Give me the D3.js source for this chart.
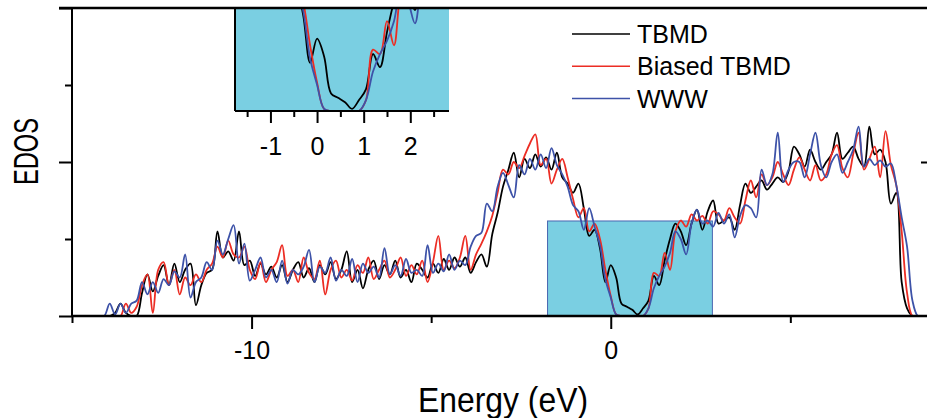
<!DOCTYPE html>
<html lang="en">
  <head>
    <meta charset="UTF-8" />
    <title>EDOS</title>
    <script src="https://d3js.org/d3.v7.min.js"></script>
    <style>
      * {
        margin: 0;
        padding: 0;
      }
      body {
        background: #fff;
      }
      svg {
        display: block;
        font-family: "Liberation Sans", Arial, sans-serif;
      }
    </style>
  </head>
  <body>
    <div id="chart"></div>
    <script>
      // energy grid (eV)
      const energies = [
        -14.4, -14.25, -14.1, -13.95, -13.8, -13.65, -13.5, -13.35, -13.2, -13.05,
        -12.9, -12.75, -12.6, -12.45, -12.3, -12.15, -12, -11.85, -11.7, -11.55,
        -11.4, -11.25, -11.1, -10.95, -10.8, -10.65, -10.5, -10.35, -10.2, -10.05,
        -9.9, -9.75, -9.6, -9.45, -9.3, -9.15, -9, -8.85, -8.7, -8.55,
        -8.4, -8.25, -8.1, -7.95, -7.8, -7.65, -7.5, -7.35, -7.2, -7.05,
        -6.9, -6.75, -6.6, -6.45, -6.3, -6.15, -6, -5.85, -5.7, -5.55,
        -5.4, -5.25, -5.1, -4.95, -4.8, -4.65, -4.5, -4.35, -4.2, -4.05,
        -3.9, -3.75, -3.6, -3.45, -3.3, -3.15, -3, -2.85, -2.7, -2.55,
        -2.4, -2.25, -2.1, -1.95, -1.8, -1.65, -1.5, -1.35, -1.2, -1.05,
        -0.9, -0.75, -0.6, -0.45, -0.3, -0.15, 0, 0.15, 0.3, 0.45,
        0.6, 0.75, 0.9, 1.05, 1.2, 1.35, 1.5, 1.65, 1.8, 1.95,
        2.1, 2.25, 2.4, 2.55, 2.7, 2.85, 3, 3.15, 3.3, 3.45,
        3.6, 3.75, 3.9, 4.05, 4.2, 4.35, 4.5, 4.65, 4.8, 4.95,
        5.1, 5.25, 5.4, 5.55, 5.7, 5.85, 6, 6.15, 6.3, 6.45,
        6.6, 6.75, 6.9, 7.05, 7.2, 7.35, 7.5, 7.65, 7.8, 7.95,
        8.1, 8.25, 8.4, 8.55, 8.7,
      ];

      const tbmd = [
        0, 0, 0, 0, 0.02, 0.08, 0.02, 0, 0, 0.15,
        0.27, 0.16, 0.26, 0.33, 0.2, 0.34, 0.22, 0.3, 0.34, 0.07,
        0.2, 0.28, 0.3, 0.55, 0.38, 0.42, 0.36, 0.55, 0.33, 0.36,
        0.26, 0.34, 0.27, 0.32, 0.25, 0.33, 0.22, 0.3, 0.35, 0.25,
        0.31, 0.22, 0.33, 0.27, 0.35, 0.24, 0.3, 0.42, 0.22, 0.3,
        0.18, 0.3, 0.36, 0.24, 0.33, 0.27, 0.36, 0.25, 0.3, 0.22,
        0.34, 0.3, 0.25, 0.34, 0.28, 0.37, 0.3, 0.38, 0.32, 0.38,
        0.28, 0.35, 0.4, 0.32, 0.53, 0.67, 0.84, 0.95, 1.06, 0.9,
        1.02, 0.96, 1.05, 0.97, 1.03, 0.95, 1.06, 0.9, 0.86, 0.8,
        0.86, 0.7, 0.52, 0.56, 0.44, 0.22, 0.33, 0.25, 0.08, 0.06,
        0.04, 0.01, 0.05, 0.1, 0.26, 0.2, 0.36, 0.5, 0.6, 0.55,
        0.46, 0.6, 0.69, 0.56, 0.68, 0.75, 0.6, 0.62, 0.64, 0.56,
        0.72, 0.86, 0.8, 0.84, 0.88, 0.82, 0.86, 0.9, 0.87, 0.94,
        1.1, 1.05, 0.97, 1.08, 1.0, 0.95, 1.0, 1.05, 1.19, 1.02,
        1.06, 1.1, 1.02, 0.97, 1.23, 1.05, 1.08, 1.0, 0.73, 0.8,
        0.22, 0.05, 0, 0, 0,
      ];

      const biasedTbmd = [
        0, 0, 0, 0, 0, 0, 0.08, 0.02, 0.06, 0.2,
        0.27, 0.02, 0.3, 0.35, 0.2, 0.3, 0.14, 0.25, 0.2, 0.27,
        0.22, 0.3, 0.34, 0.45, 0.38, 0.49, 0.4, 0.38, 0.45, 0.3,
        0.24, 0.35, 0.22, 0.3, 0.35, 0.46, 0.26, 0.3, 0.22, 0.38,
        0.28, 0.24, 0.36, 0.14, 0.3, 0.36, 0.25, 0.3, 0.23, 0.33,
        0.28, 0.38, 0.24, 0.3, 0.36, 0.25, 0.3, 0.38, 0.26, 0.33,
        0.27, 0.36, 0.22, 0.35, 0.52, 0.3, 0.36, 0.31, 0.38, 0.52,
        0.3, 0.4, 0.47, 0.55, 0.65, 0.8, 0.95, 0.92, 1.0, 0.96,
        1.04, 1.12, 1.18, 0.98, 1.02, 0.86, 0.95, 1.02, 0.9, 0.76,
        0.64, 0.7, 0.55, 0.6, 0.5, 0.3, 0.13, 0.01, 0, 0,
        0, 0, 0, 0.05, 0.28, 0.26, 0.41, 0.3, 0.55, 0.62,
        0.58, 0.66, 0.62, 0.65, 0.6, 0.68, 0.66, 0.62, 0.7, 0.64,
        0.6, 0.75, 0.88, 0.77, 0.92, 0.85, 0.9, 1.0, 0.92, 0.85,
        0.95, 1.03, 0.95, 0.88, 0.98, 0.88, 0.92, 1.05, 1.11, 0.96,
        0.9, 1.05, 1.19, 0.95, 1.02, 1.1, 0.9, 1.2, 0.98, 0.85,
        0.55, 0.15, 0, 0, 0,
      ];

      const www = [
        0, 0, 0, 0.08, 0.01, 0.08, 0.02, 0.08, 0.1, 0.22,
        0.14, 0.22, 0.15, 0.24, 0.2, 0.29, 0.25, 0.4, 0.12, 0.22,
        0.25, 0.35, 0.3, 0.49, 0.4, 0.5, 0.59, 0.34, 0.47, 0.23,
        0.3, 0.38, 0.25, 0.3, 0.22, 0.36, 0.21, 0.3, 0.27, 0.32,
        0.43, 0.22, 0.32, 0.28, 0.38, 0.23, 0.3, 0.26, 0.37, 0.22,
        0.34, 0.28, 0.32, 0.25, 0.44, 0.27, 0.33, 0.26, 0.37, 0.28,
        0.3, 0.26, 0.46, 0.28, 0.34, 0.29, 0.4, 0.3, 0.36, 0.33,
        0.45, 0.52, 0.54, 0.73, 0.68, 0.84, 0.93, 0.85, 0.77, 0.98,
        0.92, 1.02, 0.95, 1.05, 0.96, 1.09, 0.98, 0.92, 0.84, 0.72,
        0.68, 0.56, 0.7, 0.58, 0.46, 0.24, 0.12, 0.01, 0, 0,
        0, 0, 0, 0.05, 0.18, 0.26, 0.32, 0.41, 0.55, 0.5,
        0.4, 0.6, 0.69, 0.6, 0.62, 0.58, 0.67, 0.6, 0.66, 0.51,
        0.65, 0.72, 0.7, 0.64, 0.95, 0.85, 0.92, 1.19, 0.87, 0.95,
        1.0, 1.0, 0.9, 1.05, 1.19, 0.98, 0.9, 1.0, 1.05, 0.93,
        1.0, 1.08, 1.23, 0.97, 1.02, 0.98, 1.01, 0.97, 0.99, 0.85,
        0.64, 0.45, 0.1, 0, 0,
      ];

      const seriesNames = ["TBMD", "Biased TBMD", "WWW"];
      const seriesValues = [tbmd, biasedTbmd, www];
      const seriesColors = ["#000000", "#ec2d24", "#3d52a8"];

      const xTicksMajor = [-10, 0];
      const xTicksMinor = [-15, -5, 5];
      const yTicksMajor = [0, 1, 2];
      const yTicksMinor = [0.5, 1.5];
      const insetTicksMajor = [-1, 0, 1, 2];
      const insetTicksMinor = [-1.5, -0.5, 0.5, 1.5, 2.5];

      // zoomed window shown in the inset
      const zoomEnergy = [-1.76, 2.83];
      const zoomBoxTop = 0.617;
      const insetEdosMax = 0.47;

      const width = 927;
      const height = 418;
      const MARGIN = { left: 72, right: 934, top: 8, bottom: 316 };

      let svg = d3
        .select("#chart")
        .append("svg")
        .attr("width", width)
        .attr("height", height);

      let x = d3.scaleLinear().domain([-15, 9]).range([MARGIN.left, MARGIN.right]);
      let y = d3.scaleLinear().domain([0, 2]).range([MARGIN.bottom, MARGIN.top]);

      let insetX = d3.scaleLinear().domain(zoomEnergy).range([235, 449]);
      let insetY = d3.scaleLinear().domain([0, insetEdosMax]).range([111, 8]);

      const makeLine = (sx, sy) =>
        d3
          .line()
          .x((d, i) => sx(energies[i]))
          .y((d) => sy(d))
          .curve(d3.curveCatmullRom.alpha(0.5));

      let defs = svg.append("defs");
      defs
        .append("clipPath")
        .attr("id", "mainClip")
        .append("rect")
        .attr("x", MARGIN.left)
        .attr("y", MARGIN.top)
        .attr("width", MARGIN.right - MARGIN.left)
        .attr("height", MARGIN.bottom - MARGIN.top);
      defs
        .append("clipPath")
        .attr("id", "insetClip")
        .append("rect")
        .attr("x", insetX.range()[0])
        .attr("y", insetY.range()[1])
        .attr("width", insetX.range()[1] - insetX.range()[0])
        .attr("height", insetY.range()[0] - insetY.range()[1]);

      // highlighted window in main plot
      svg
        .append("rect")
        .attr("x", x(zoomEnergy[0]))
        .attr("y", y(zoomBoxTop))
        .attr("width", x(zoomEnergy[1]) - x(zoomEnergy[0]))
        .attr("height", y(0) - y(zoomBoxTop))
        .attr("fill", "#7acfe2")
        .attr("stroke", "#4a66b0")
        .attr("stroke-width", 1);

      // main curves
      let mainLine = makeLine(x, y);
      svg
        .append("g")
        .attr("clip-path", "url(#mainClip)")
        .selectAll("path")
        .data(seriesValues)
        .join("path")
        .attr("d", mainLine)
        .attr("fill", "none")
        .attr("stroke", (d, i) => seriesColors[i])
        .attr("stroke-width", 1.8);

      // axes
      function styleAxis(g) {
        g.select(".domain").remove();
        g.selectAll("line").attr("stroke", "#000").attr("stroke-width", 2);
        g.selectAll("text")
          .attr("font-family", "'Liberation Sans', Arial, sans-serif")
          .attr("font-size", 25)
          .attr("fill", "#000");
      }

      svg
        .append("g")
        .attr("transform", `translate(0,${MARGIN.bottom})`)
        .call(
          d3.axisBottom(x).tickValues(xTicksMajor).tickSize(13).tickPadding(12)
            .tickFormat((d) => String(d))
        )
        .call(styleAxis);
      svg
        .append("g")
        .attr("transform", `translate(0,${MARGIN.bottom})`)
        .call(d3.axisBottom(x).tickValues(xTicksMinor).tickSize(7).tickFormat(""))
        .call(styleAxis);

      svg
        .append("g")
        .attr("transform", `translate(${MARGIN.left},0)`)
        .call(d3.axisLeft(y).tickValues(yTicksMajor).tickSize(13).tickFormat(""))
        .call(styleAxis);
      svg
        .append("g")
        .attr("transform", `translate(${MARGIN.left},0)`)
        .call(d3.axisLeft(y).tickValues(yTicksMinor).tickSize(7).tickFormat(""))
        .call(styleAxis);

      // right axis, ticks inward
      svg
        .append("g")
        .attr("transform", `translate(${MARGIN.right},0)`)
        .call(d3.axisLeft(y).tickValues([1]).tickSize(13).tickFormat(""))
        .call(styleAxis);

      // frame lines
      svg
        .append("line")
        .attr("x1", MARGIN.left).attr("x2", MARGIN.right)
        .attr("y1", MARGIN.bottom).attr("y2", MARGIN.bottom)
        .attr("stroke", "#000").attr("stroke-width", 2.5);
      svg
        .append("line")
        .attr("x1", MARGIN.left).attr("x2", MARGIN.left)
        .attr("y1", MARGIN.top).attr("y2", MARGIN.bottom)
        .attr("stroke", "#000").attr("stroke-width", 2);

      // inset
      svg
        .append("rect")
        .attr("x", insetX.range()[0])
        .attr("y", insetY.range()[1])
        .attr("width", insetX.range()[1] - insetX.range()[0])
        .attr("height", insetY.range()[0] - insetY.range()[1])
        .attr("fill", "#7acfe2");

      let insetLine = makeLine(insetX, insetY);
      svg
        .append("g")
        .attr("clip-path", "url(#insetClip)")
        .selectAll("path")
        .data(seriesValues)
        .join("path")
        .attr("d", insetLine)
        .attr("fill", "none")
        .attr("stroke", (d, i) => seriesColors[i])
        .attr("stroke-width", 1.8);

      svg
        .append("g")
        .attr("transform", `translate(0,${insetY(0)})`)
        .call(
          d3.axisBottom(insetX).tickValues(insetTicksMajor).tickSize(12).tickPadding(14)
            .tickFormat((d) => String(d))
        )
        .call(styleAxis);
      svg
        .append("g")
        .attr("transform", `translate(0,${insetY(0)})`)
        .call(d3.axisBottom(insetX).tickValues(insetTicksMinor).tickSize(6).tickFormat(""))
        .call(styleAxis);

      svg
        .append("line")
        .attr("x1", insetX.range()[0]).attr("x2", insetX.range()[1])
        .attr("y1", insetY(0)).attr("y2", insetY(0))
        .attr("stroke", "#000").attr("stroke-width", 2);
      svg
        .append("line")
        .attr("x1", insetX.range()[0]).attr("x2", insetX.range()[0])
        .attr("y1", MARGIN.top).attr("y2", insetY(0))
        .attr("stroke", "#000").attr("stroke-width", 2);

      // top frame line, drawn last so it sits over the inset
      svg
        .append("line")
        .attr("x1", MARGIN.left - 13).attr("x2", MARGIN.right)
        .attr("y1", MARGIN.top).attr("y2", MARGIN.top)
        .attr("stroke", "#000").attr("stroke-width", 2.5);

      // legend
      let legend = svg
        .append("g")
        .selectAll("g")
        .data(seriesNames)
        .join("g")
        .attr("transform", (d, i) => `translate(572,${34 + i * 32.3})`);
      legend
        .append("line")
        .attr("x1", 0).attr("x2", 58)
        .attr("stroke", (d, i) => seriesColors[i])
        .attr("stroke-width", 1.5);
      legend
        .append("text")
        .attr("x", 65)
        .attr("y", 9)
        .attr("font-size", 25)
        .text((d) => d);

      // axis titles
      svg
        .append("text")
        .attr("x", 503)
        .attr("y", 412)
        .attr("text-anchor", "middle")
        .attr("font-size", 35)
        .attr("textLength", 170)
        .attr("lengthAdjust", "spacingAndGlyphs")
        .text("Energy (eV)");

      svg
        .append("text")
        .attr("transform", "translate(38,151.5) rotate(-90)")
        .attr("text-anchor", "middle")
        .attr("font-size", 35)
        .attr("textLength", 67)
        .attr("lengthAdjust", "spacingAndGlyphs")
        .text("EDOS");
    </script>
  </body>
</html>
